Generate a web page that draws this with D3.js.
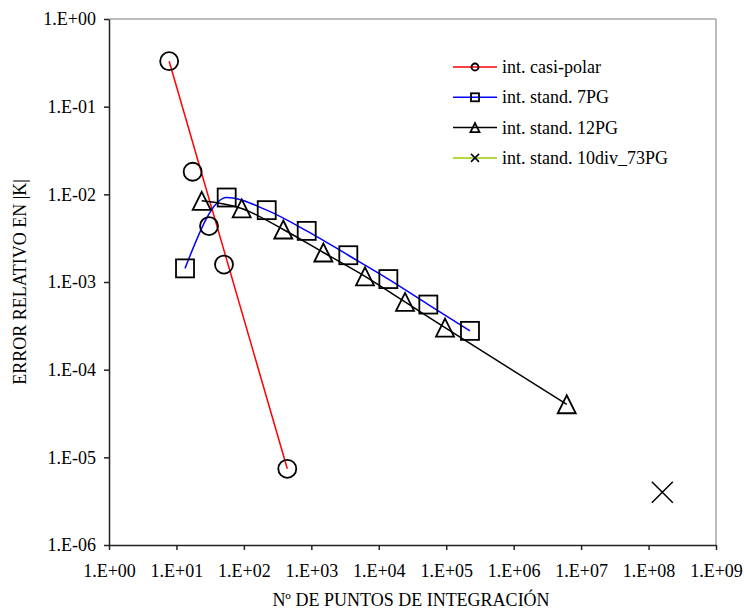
<!doctype html>
<html lang="es">
<head>
<meta charset="utf-8">
<title>Error relativo en |K|</title>
<script src="https://cdn.jsdelivr.net/npm/d3@7"></script>
<style>
  body { margin: 0; background: #fff; }
  svg text { font-family: "Liberation Serif", "Times New Roman", "DejaVu Serif", serif; fill: #000; }
</style>
</head>
<body>
<svg id="chart" width="744" height="612"></svg>
<script>
// int. casi-polar
var casiX = [7.8, 17.4, 30.4, 50.7, 440];
var casiY = [0.33, 0.0181, 0.00434, 0.00158, 7.4e-6];
// int. stand. 7PG
var pg7X = [13.4, 55.6, 218, 854, 3535, 13860, 54300, 225000];
var pg7Y = [0.00143, 0.0092, 0.0066, 0.00383, 0.00202, 0.00108, 0.000553, 0.000277];
// int. stand. 12PG
var pg12X = [23.7, 92.8, 384, 1506, 6250, 24500, 96000, 6.12e6];
var pg12Y = [0.00843, 0.0069, 0.00397, 0.00217, 0.00116, 0.000593, 0.000302, 4.03e-5];
// int. stand. 10div_73PG
var div73X = [1.6e8];
var div73Y = [4.0e-6];

var xDecades = [0, 1, 2, 3, 4, 5, 6, 7, 8, 9];
var yDecades = [0, -1, -2, -3, -4, -5, -6];
var seriesNames = ["int. casi-polar", "int. stand. 7PG", "int. stand. 12PG", "int. stand. 10div_73PG"];

var svg = d3.select("#chart");
var plotLeft = 109, plotRight = 716, plotTop = 19, plotBottom = 545;
var fontSize = "18px";
var serif = '"Liberation Serif", "Times New Roman", "DejaVu Serif", serif';

var x = d3.scaleLog().domain([1, 1e9]).range([plotLeft, plotRight]);
var y = d3.scaleLog().domain([1e-6, 1]).range([plotBottom, plotTop]);

function sci(e) {
  var a = Math.abs(e);
  return "1.E" + (e < 0 ? "-" : "+") + (a < 10 ? "0" : "") + a;
}

// frame: grey top and right edges
svg.append("line").attr("x1", plotLeft).attr("x2", plotRight).attr("y1", plotTop).attr("y2", plotTop)
  .style("stroke", "#a6a6a6").style("stroke-width", 1.5);
svg.append("line").attr("x1", plotRight).attr("x2", plotRight).attr("y1", plotTop).attr("y2", plotBottom)
  .style("stroke", "#a6a6a6").style("stroke-width", 1.5);

var xAxis = svg.append("g").attr("transform", "translate(0," + plotBottom + ")")
  .call(d3.axisBottom(x).tickValues(xDecades.map(function(e) { return Math.pow(10, e); }))
    .tickFormat(function(d) { return sci(Math.round(Math.log10(d))); })
    .tickSize(5).tickSizeOuter(0).tickPadding(14));
var yAxis = svg.append("g").attr("transform", "translate(" + plotLeft + ",0)")
  .call(d3.axisLeft(y).tickValues(yDecades.map(function(e) { return Math.pow(10, e); }))
    .tickFormat(function(d) { return sci(Math.round(Math.log10(d))); })
    .tickSize(5).tickSizeOuter(0).tickPadding(8));

[xAxis, yAxis].forEach(function(g) {
  g.attr("font-family", null);
  g.selectAll("path, line").style("stroke", "#222").style("stroke-width", 1.5);
  g.selectAll("text").style("font-family", serif).style("font-size", fontSize);
});

svg.append("text").attr("x", 411).attr("y", 606).attr("text-anchor", "middle")
  .style("font-family", serif).style("font-size", fontSize).text("Nº DE PUNTOS DE INTEGRACIÓN");
svg.append("text").attr("transform", "translate(26,282) rotate(-90)").attr("text-anchor", "middle")
  .style("font-family", serif).style("font-size", fontSize).text("ERROR RELATIVO EN |K|");

function pts(xs, ys) { return xs.map(function(v, i) { return [v, ys[i]]; }); }

var casi = pts(casiX, casiY), p7 = pts(pg7X, pg7Y), p12 = pts(pg12X, pg12Y), d73 = pts(div73X, div73Y);

var smooth = d3.line().x(function(d) { return x(d[0]); }).y(function(d) { return y(d[1]); })
  .curve(d3.curveMonotoneX);
var straight = d3.line().x(function(d) { return x(d[0]); }).y(function(d) { return y(d[1]); });

// red line joins the first and last casi-polar points
svg.append("path").attr("d", straight([casi[0], casi[casi.length - 1]]))
  .style("fill", "none").style("stroke", "#ff0000").style("stroke-width", 1.5);
svg.append("path").attr("d", smooth(p7))
  .style("fill", "none").style("stroke", "#0000ff").style("stroke-width", 1.5);
svg.append("path").attr("d", smooth(p12))
  .style("fill", "none").style("stroke", "#000").style("stroke-width", 1.5);

function marker(g, kind, cx, cy, s) {
  var m;
  if (kind == 0) {
    m = g.append("circle").attr("cx", cx).attr("cy", cy).attr("r", s / 2);
  } else if (kind == 1) {
    m = g.append("rect").attr("x", cx - s / 2).attr("y", cy - s / 2).attr("width", s).attr("height", s);
  } else if (kind == 2) {
    m = g.append("path").attr("d", "M" + cx + "," + (cy - s / 2) + "L" + (cx + s / 2) + "," + (cy + s / 2) +
      "L" + (cx - s / 2) + "," + (cy + s / 2) + "Z");
  } else {
    m = g.append("path").attr("d", "M" + (cx - s / 2) + "," + (cy - s / 2) + "L" + (cx + s / 2) + "," + (cy + s / 2) +
      "M" + (cx + s / 2) + "," + (cy - s / 2) + "L" + (cx - s / 2) + "," + (cy + s / 2));
  }
  m.style("fill", "none").style("stroke", "#000").style("stroke-width", kind == 3 ? 1.5 : 1.8);
}

var mk = svg.append("g");
[casi, p7, p12, d73].forEach(function(series, k) {
  series.forEach(function(d) {
    marker(mk, k, x(d[0]), y(d[1]), k == 3 ? 21 : 18);
  });
});

// legend
var legColors = ["#ff0000", "#0000ff", "#000000", "#99cc00"];
var legSizes = [7, 8, 9, 8];
var leg = svg.append("g");
seriesNames.forEach(function(name, i) {
  var ly = 67 + i * 30.3;
  leg.append("line").attr("x1", 453).attr("x2", 497).attr("y1", ly).attr("y2", ly)
    .style("stroke", legColors[i]).style("stroke-width", 1.5);
  marker(leg, i, 475, ly, legSizes[i]);
  leg.append("text").attr("x", 502).attr("y", ly + 6).style("font-family", serif)
    .style("font-size", fontSize).text(name);
});
</script>
</body>
</html>
